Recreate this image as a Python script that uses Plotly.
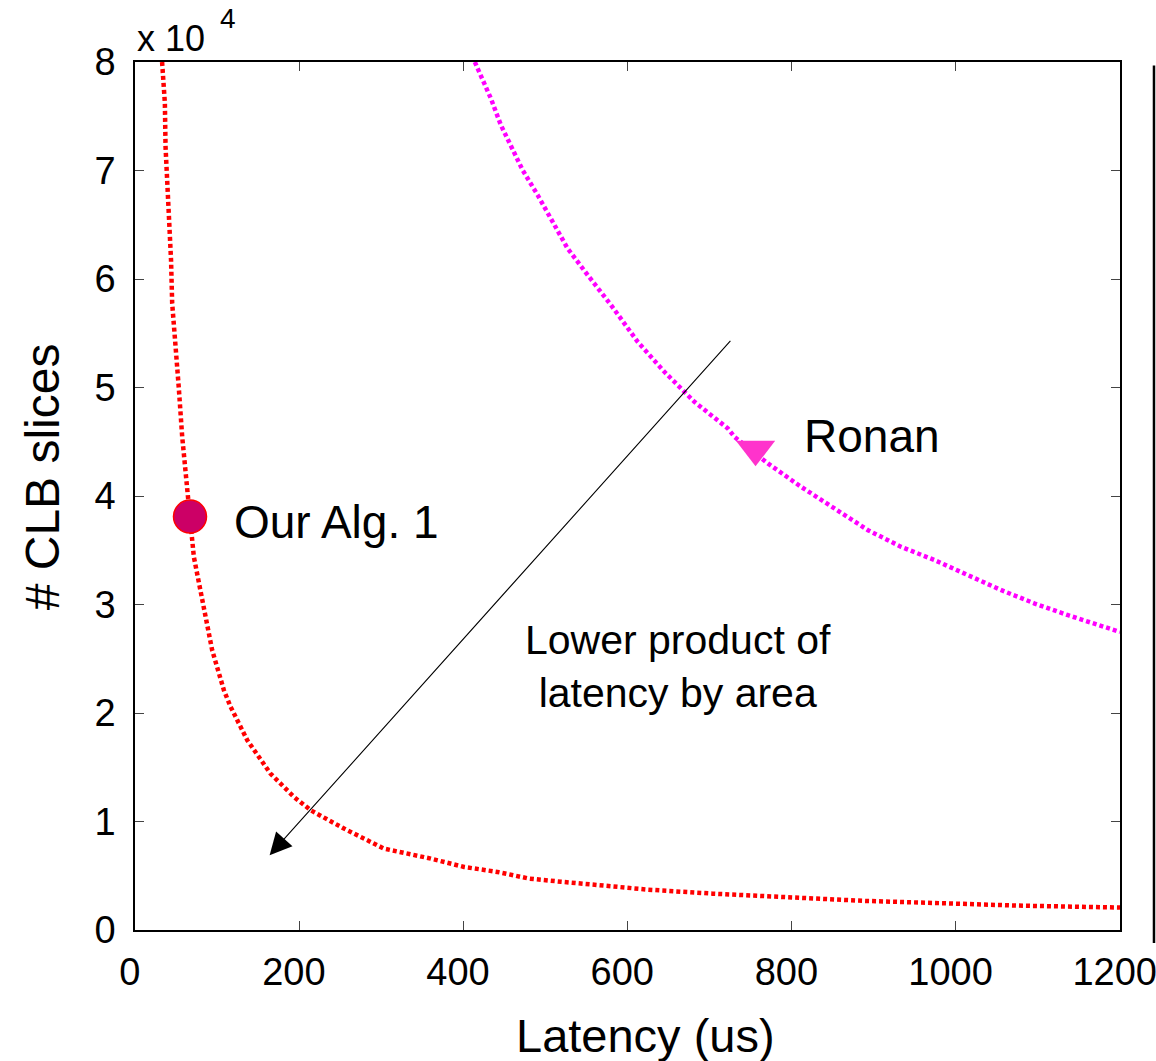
import plotly.graph_objects as go

# ---- data ----
alg1_x = [33, 36.4, 37.2, 39.3, 41.2, 43.9, 45.3, 49.4, 53.4, 57.5, 61.6, 66.9, 71.7, 79.9,
          86, 94, 108.3, 116.5, 136.8, 165, 193.7, 214, 254.6, 287, 303.4, 360.4, 401,
          441.7, 480, 519, 600, 625, 704, 800, 890, 1000, 1075, 1200]
alg1_y = [80000, 76190, 72190, 69120, 66200, 61770, 57750, 54070, 49920, 45460, 41770, 38080,
          34390, 31020, 28710, 25790, 22100, 20560, 17490, 14420, 12260, 11040, 9350, 8110,
          7500, 6580, 5810, 5350, 4740, 4450, 3960, 3720, 3350, 2990, 2680, 2430, 2250, 2070]

ronan_x = [414, 433.5, 445.7, 460, 472.2, 490.5, 506.7, 527, 551.5, 579.9, 612.4, 644.9,
           681.5, 722.2, 730.3, 771, 811.6, 852.2, 893, 933.5, 974.1, 1014.9, 1055.5,
           1096.1, 1136.8, 1200]
ronan_y = [80000, 76650, 74190, 72040, 70040, 67740, 65590, 62820, 60360, 57600, 54210, 51450,
           48680, 46230, 45450, 43000, 40840, 38850, 36850, 35310, 34090, 32700, 31320,
           30090, 29010, 27470]

point_names = ["Our Alg. 1", "Ronan"]
point_x = [67, 756]
point_y = [38100, 44300]

arrow_tail = (727, 54430)
arrow_tip = (164, 6890)

x_ticks = [0, 200, 400, 600, 800, 1000, 1200]
x_ticktext = ["0", "200", "400", "600", "800", "1000", "1200"]
y_ticks = [0, 10000, 20000, 30000, 40000, 50000, 60000, 70000, 80000]
y_ticktext = ["0", "1", "2", "3", "4", "5", "6", "7", "8"]

FONT = "Liberation Sans, Arial, Helvetica, sans-serif"
NBSP = "\u00a0"  # trailing space nudges labels left like the reference

fig = go.Figure()
fig.add_trace(go.Scatter(x=alg1_x, y=alg1_y, mode="lines",
                         line=dict(color="#FF0000", width=4.5, dash="4px,3px"),
                         showlegend=False, hoverinfo="skip"))
fig.add_trace(go.Scatter(x=ronan_x, y=ronan_y, mode="lines",
                         line=dict(color="#FF00FF", width=4.5, dash="4px,3px"),
                         showlegend=False, hoverinfo="skip"))
fig.add_trace(go.Scatter(x=[point_x[0]], y=[point_y[0]], mode="markers",
                         marker=dict(symbol="circle", size=33, color="#CC0066",
                                     line=dict(color="#FF0000", width=1.5)),
                         showlegend=False))
fig.add_trace(go.Scatter(x=[point_x[1]], y=[point_y[1]], mode="markers",
                         marker=dict(symbol="triangle-down", size=34, color="#FF33CC",
                                     line=dict(color="#FF33CC", width=0)),
                         showlegend=False))

# point labels
fig.add_annotation(x=point_x[0], y=point_y[0], text=point_names[0], showarrow=False,
                   xanchor="left", yanchor="middle", xshift=42, yshift=-5,
                   font=dict(family=FONT, size=46, color="black"))
fig.add_annotation(x=point_x[1], y=point_y[1], text=point_names[1], showarrow=False,
                   xanchor="left", yanchor="middle", xshift=46, yshift=13,
                   font=dict(family=FONT, size=46, color="black"))

# arrow
fig.add_annotation(x=arrow_tip[0], y=arrow_tip[1], ax=arrow_tail[0], ay=arrow_tail[1],
                   xref="x", yref="y", axref="x", ayref="y", text="", showarrow=True,
                   arrowhead=2, arrowsize=4, arrowwidth=1.1, arrowcolor="black")

fig.add_annotation(x=662, y=24300, text="Lower product of<br>latency by area",
                   showarrow=False, xanchor="center", yanchor="middle",
                   font=dict(family=FONT, size=41, color="black"))

# axis titles & exponent
fig.add_annotation(xref="paper", yref="paper", x=0.518, y=-0.121, text="Latency (us)",
                   showarrow=False, xanchor="center", yanchor="middle",
                   font=dict(family=FONT, size=47, color="black"))
fig.add_annotation(xref="paper", yref="paper", x=-0.094, y=0.522, text="# CLB slices",
                   showarrow=False, xanchor="center", yanchor="middle", textangle=-90,
                   font=dict(family=FONT, size=48, color="black"))
fig.add_annotation(xref="paper", yref="paper", x=0.0, y=1.001, text="x 10",
                   showarrow=False, xanchor="left", yanchor="bottom",
                   font=dict(family=FONT, size=36, color="black"))
fig.add_annotation(xref="paper", yref="paper", x=0.084, y=1.030, text="4",
                   showarrow=False, xanchor="left", yanchor="bottom",
                   font=dict(family=FONT, size=28, color="black"))

# edge of neighbouring panel
fig.add_shape(type="line", xref="paper", yref="paper", x0=1.0345, x1=1.0345,
              y0=-0.015, y1=0.996, line=dict(color="black", width=2.5))

axis_common = dict(showline=True, linecolor="black", linewidth=1.5, mirror="ticks",
                   ticks="inside", ticklen=9, tickwidth=1, tickcolor="#444444",
                   showgrid=False, zeroline=False, ticklabeloverflow="allow",
                   tickfont=dict(family=FONT, size=38, color="black"))

fig.update_xaxes(range=[0, 1200], tickvals=x_ticks,
                 ticktext=[t + NBSP for t in x_ticktext],
                 ticklabelstandoff=8, **axis_common)
fig.update_yaxes(range=[0, 80000], tickvals=y_ticks, ticktext=y_ticktext,
                 ticklabelstandoff=10, **axis_common)

fig.update_layout(width=1156, height=1061,
                  margin=dict(l=135, r=36, t=62, b=131, autoexpand=False),
                  paper_bgcolor="white", plot_bgcolor="white",
                  font=dict(family=FONT, color="black"))

# remove the default body margin so the figure fills the window exactly
fig.write_html("out.html", config={"displayModeBar": False},
               post_script="document.body.style.margin='0';"
                           "document.body.style.overflow='hidden';")
